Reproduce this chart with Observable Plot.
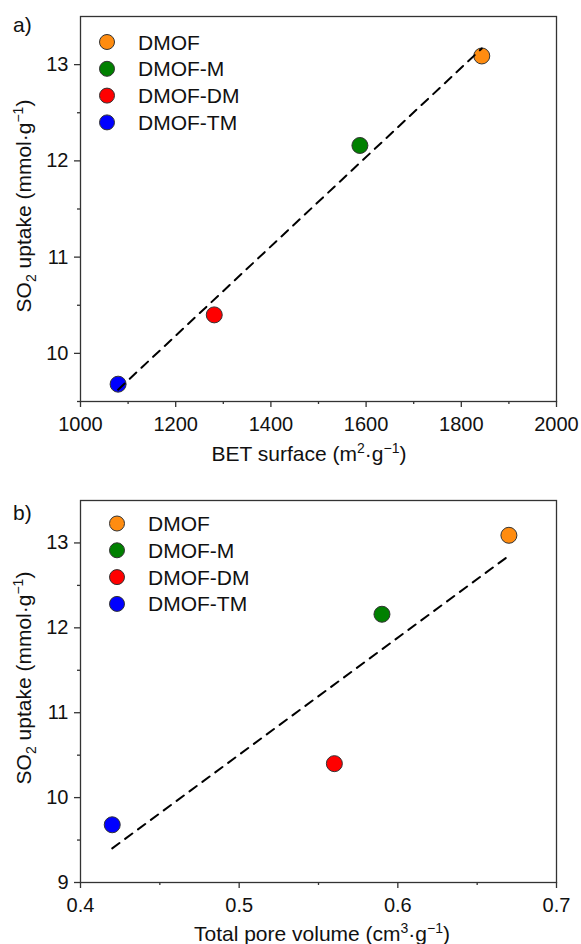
<!DOCTYPE html>
<html>
<head>
<meta charset="utf-8">
<script src="https://cdn.jsdelivr.net/npm/d3@7"></script>
<script src="https://cdn.jsdelivr.net/npm/@observablehq/plot@0.6"></script>
<style>
  body { margin: 0; background: #fff; }
  #chart { width: 581px; }
  #chart svg { display: block; }
</style>
</head>
<body>
<div id="chart"></div>
<script>
// Samples and their marker colours
const names = ["DMOF", "DMOF-M", "DMOF-DM", "DMOF-TM"];
const colors = ["#ff8c10", "#008000", "#ff0000", "#0000ff"];

// SO2 uptake (mmol/g) and the two textural properties
const so2Uptake = [13.09, 12.16, 10.40, 9.68];
const betSurface = [1843, 1587, 1281, 1079];
const poreVolume = [0.67, 0.59, 0.56, 0.42];

// Axis ticks
const betTicks = [1000, 1200, 1400, 1600, 1800, 2000];
const betMinor = [1100, 1300, 1500, 1700, 1900];
const poreTicks = [0.4, 0.5, 0.6, 0.7];
const poreMinor = [0.45, 0.55, 0.65];
const uptakeTicksA = [10, 11, 12, 13];
const uptakeMinorA = [9.5, 10.5, 11.5, 12.5];
const uptakeTicksB = [9, 10, 11, 12, 13];
const uptakeMinorB = [9.5, 10.5, 11.5, 12.5];

const rows = names.map((name, i) => ({
  name, so2: so2Uptake[i], bet: betSurface[i], pore: poreVolume[i]
}));

const FONT = "'Liberation Sans', Arial, sans-serif";
const INK = "#333";
const TEXT = "#111";
const TICK_FS = 20;
const LABEL_FS = 21;
const SMALL_FS = 14;

function panel({xKey, xDomain, xTicks, xMinor, yDomain, yTicks, yMinor, height, marginTop, marginBottom, tag, xLabel, yLabelMid, legendAt}) {
  const plot = Plot.plot({
    width: 581,
    height,
    marginTop,
    marginBottom,
    marginLeft: 80,
    marginRight: 25,
    style: {fontFamily: FONT, fontSize: `${TICK_FS}px`, color: TEXT, background: "#fff"},
    x: {domain: xDomain},
    y: {domain: yDomain},
    color: {domain: names, range: colors},
    marks: [
      Plot.axisX({ticks: xTicks, tickSize: 6, tickPadding: 9, fontSize: TICK_FS, tickFormat: d => String(d), label: null, stroke: INK, strokeWidth: 1.3}),
      Plot.axisX({ticks: xMinor, tickSize: 3, text: null, label: null, stroke: INK, strokeWidth: 1.3}),
      Plot.axisY({ticks: yTicks, tickSize: 6, tickPadding: 6, fontSize: TICK_FS, tickFormat: d => String(d), label: null, stroke: INK, strokeWidth: 1.3}),
      Plot.axisY({ticks: yMinor, tickSize: 3, text: null, label: null, stroke: INK, strokeWidth: 1.3}),
      Plot.frame({stroke: INK, strokeWidth: 1.3}),
      Plot.dot(rows, {x: xKey, y: "so2", fill: "name", r: 8, stroke: INK, strokeWidth: 1}),
      Plot.linearRegressionY(rows, {x: xKey, y: "so2", ci: 0, stroke: "#000", strokeWidth: 2, strokeDasharray: "9,7"})
    ]
  });

  const svg = d3.select(plot);
  const color = plot.scale("color");

  // panel tag
  svg.append("text")
    .attr("x", 13).attr("y", tag.y)
    .attr("text-anchor", "start")
    .attr("font-size", LABEL_FS).attr("fill", TEXT)
    .text(tag.text);

  // legend inside the frame
  const lg = svg.append("g")
    .attr("font-size", LABEL_FS).attr("fill", TEXT).attr("text-anchor", "start");
  names.forEach((n, i) => {
    const cy = legendAt.y + i * 26.8;
    lg.append("circle").attr("cx", legendAt.x).attr("cy", cy).attr("r", 7.5)
      .attr("fill", color.apply(n)).attr("stroke", INK).attr("stroke-width", 1);
    lg.append("text").attr("x", legendAt.x + 31).attr("y", cy).attr("dy", "0.36em").text(n);
  });

  // y axis title: SO2 uptake (mmol·g−1)
  const yt = svg.append("text")
    .attr("transform", `translate(31,${yLabelMid}) rotate(-90)`)
    .attr("text-anchor", "middle").attr("font-size", LABEL_FS).attr("fill", TEXT);
  yt.append("tspan").text("SO");
  yt.append("tspan").attr("font-size", SMALL_FS).attr("dy", 5).text("2");
  yt.append("tspan").attr("dy", -5).text(" uptake (mmol·g");
  yt.append("tspan").attr("font-size", SMALL_FS).attr("dy", -8).text("−1");
  yt.append("tspan").attr("dy", 8).text(")");

  // x axis title
  const xt = svg.append("text")
    .attr("x", xLabel.x).attr("y", xLabel.y)
    .attr("text-anchor", "middle").attr("font-size", LABEL_FS).attr("fill", TEXT);
  xt.append("tspan").text(xLabel.pre);
  xt.append("tspan").attr("font-size", SMALL_FS).attr("dy", -8).text(xLabel.sup1);
  xt.append("tspan").attr("dy", 8).text("·g");
  xt.append("tspan").attr("font-size", SMALL_FS).attr("dy", -8).text("−1");
  xt.append("tspan").attr("dy", 8).text(")");

  return plot;
}

const chart = document.getElementById("chart");

chart.append(panel({
  xKey: "bet", xDomain: [1000, 2000], xTicks: betTicks, xMinor: betMinor,
  yDomain: [9.5, 13.5], yTicks: uptakeTicksA, yMinor: uptakeMinorA,
  height: 472, marginTop: 16, marginBottom: 71,
  tag: {text: "a)", y: 31.5},
  xLabel: {x: 309, y: 461, pre: "BET surface (m", sup1: "2"},
  yLabelMid: 206,
  legendAt: {x: 107, y: 42}
}));

chart.append(panel({
  xKey: "pore", xDomain: [0.4, 0.7], xTicks: poreTicks, xMinor: poreMinor,
  yDomain: [9, 13.5], yTicks: uptakeTicksB, yMinor: uptakeMinorB,
  height: 472, marginTop: 28, marginBottom: 62,
  tag: {text: "b)", y: 47.5},
  xLabel: {x: 322, y: 469, pre: "Total pore volume (cm", sup1: "3"},
  yLabelMid: 206,
  legendAt: {x: 117, y: 51.5}
}));
</script>
</body>
</html>
